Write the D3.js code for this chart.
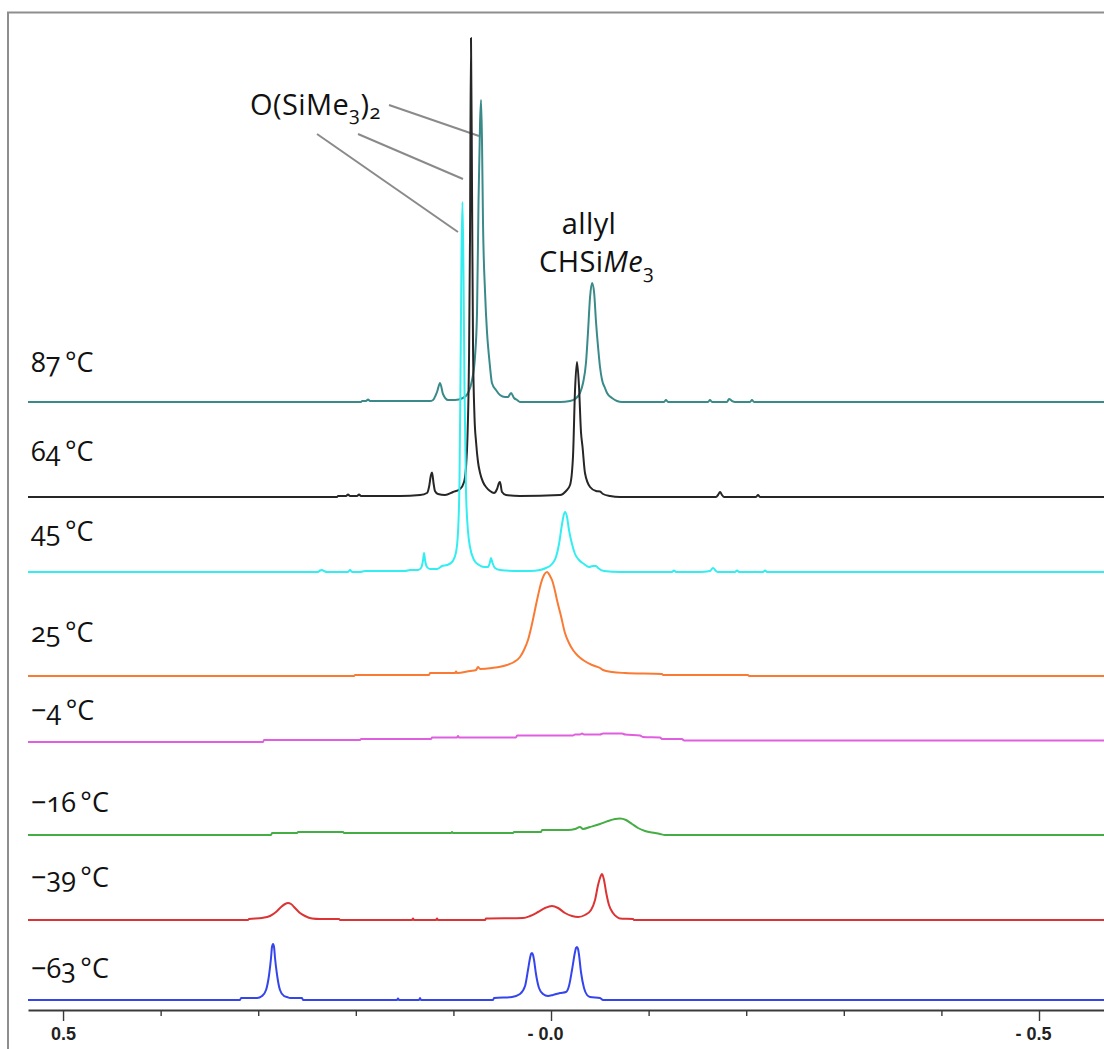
<!DOCTYPE html>
<html>
<head>
<meta charset="utf-8">
<script src="https://cdn.jsdelivr.net/npm/d3@7"></script>
<style>
  html, body { margin: 0; padding: 0; background: #fff; }
  svg { display: block; }
  .temp { font-family: "Open Sans", "Noto Sans", sans-serif; font-size: 27px; fill: #111; font-variant-numeric: oldstyle-nums; }
  .note { font-family: "Open Sans", "Noto Sans", sans-serif; font-size: 29px; fill: #111; letter-spacing: 0.4px; font-variant-numeric: oldstyle-nums; }
</style>
</head>
<body>
<script>
// Variable-temperature 1H NMR traces, stacked from -63 °C (bottom) to 87 °C (top).
// Each trace: [chemical shift (ppm), intensity above its own baseline].
const temperatures = [87, 64, 45, 25, -4, -16, -39, -63];
// vertical stacking offset of each trace, in intensity units
const stackOffset = [598, 503, 428, 324, 258, 165, 80, 0];
// spectral window shown on the axis (ppm, left to right)
const ppmWindow = [0.5359, -0.5666];
const tickValuesPpm = [0.5, 0.4, 0.3, 0.2, 0.1, 0.0, -0.1, -0.2, -0.3, -0.4, -0.5];
const tickLabels = { "0.5": "0.5", "0.0": "- 0.0", "-0.5": "- 0.5" };

const spec87 = [
  [0.5359,0],[0.1947,0],[0.1936,1],[0.1895,1],[0.1875,2.5],[0.1855,1],[0.1240,1],[0.1209,2],
  [0.1168,10],[0.1137,19],[0.1107,8],[0.1055,2],[0.0984,2],[0.0902,4],[0.0850,9],[0.0809,22],
  [0.0779,45],[0.0758,90],[0.0743,200],[0.0727,280],[0.0717,302],[0.0707,260],[0.0697,180],
  [0.0676,110],[0.0656,70],[0.0635,45],[0.0625,35],[0.0605,19],[0.0564,12],[0.0523,7],[0.0471,5],
  [0.0441,5],[0.0410,9],[0.0379,4],[0.0348,2],[0.0318,0],[-0.0092,0],[-0.0195,1],[-0.0246,3],
  [-0.0297,9],[-0.0328,19],[-0.0359,40],[-0.0379,70],[-0.0400,105],[-0.0420,119],[-0.0441,110],
  [-0.0461,80],[-0.0482,55],[-0.0502,35],[-0.0523,22],[-0.0553,14],[-0.0574,9],[-0.0625,4],
  [-0.0676,1],[-0.0727,0],[-0.1158,0],[-0.1178,2],[-0.1199,0],[-0.1609,0],[-0.1629,2],[-0.1650,0],
  [-0.1803,0],[-0.1824,3],[-0.1855,1],[-0.1885,0],[-0.2039,0],[-0.2059,2],[-0.2080,0],[-0.5666,0]
];
const spec64 = [
  [0.5359,0],[0.2193,0],[0.2182,1],[0.2100,1],[0.2080,2.5],[0.2059,1],[0.1988,1],[0.1967,2.5],
  [0.1947,1],[0.1547,1],[0.1342,2],[0.1271,4],[0.1250,10],[0.1230,22],[0.1219,24.5],[0.1204,14],
  [0.1189,6],[0.1158,3],[0.1086,2],[0.1004,5],[0.0932,8],[0.0891,15],[0.0871,30],[0.0856,60],
  [0.0840,140],[0.0830,260],[0.0820,459],[0.0809,300],[0.0799,150],[0.0784,80],[0.0768,55],
  [0.0748,35],[0.0727,24],[0.0697,15],[0.0666,10],[0.0625,6],[0.0584,4],[0.0553,8],[0.0533,14],
  [0.0523,15],[0.0502,5],[0.0461,2],[0.0318,1],[-0.0092,2],[-0.0154,6],[-0.0195,12],[-0.0225,40],
  [-0.0246,107],[-0.0266,135],[-0.0287,110],[-0.0307,65],[-0.0323,50],[-0.0348,24],[-0.0400,10],
  [-0.0461,6],[-0.0502,5.5],[-0.0533,3],[-0.0605,1],[-0.0707,0],[-0.1691,0],[-0.1711,2],
  [-0.1732,5],[-0.1752,2],[-0.1773,0],[-0.2100,0],[-0.2121,2],[-0.2141,0],[-0.5666,0]
];
const spec45 = [
  [0.5359,0],[0.2387,0],[0.2367,1.5],[0.2346,2],[0.2326,1],[0.2295,0],[0.2080,0],[0.2059,2],
  [0.2039,0],[0.1957,0],[0.1906,1],[0.1650,1],[0.1496,1],[0.1445,2],[0.1363,2],[0.1332,4],
  [0.1311,12],[0.1301,19],[0.1291,12],[0.1271,5],[0.1240,3],[0.1168,3],[0.1117,6],[0.1066,7],
  [0.1014,10],[0.0973,20],[0.0953,40],[0.0938,90],[0.0927,200],[0.0917,320],[0.0907,370],
  [0.0897,300],[0.0886,180],[0.0871,80],[0.0850,40],[0.0830,25],[0.0789,12],[0.0738,7],[0.0686,5],
  [0.0645,5],[0.0625,10],[0.0615,14],[0.0599,9],[0.0574,4],[0.0523,2],[0.0318,1],[0.0215,1],
  [0.0113,2],[0.0051,4],[-0.0010,8],[-0.0051,15],[-0.0082,28],[-0.0113,48],[-0.0133,58],
  [-0.0143,60],[-0.0164,55],[-0.0184,42],[-0.0215,28],[-0.0246,18],[-0.0287,12],[-0.0338,8],
  [-0.0389,5],[-0.0430,6],[-0.0461,6],[-0.0482,4],[-0.0543,1],[-0.0707,0],[-0.1240,0],[-0.1260,1.5],
  [-0.1281,0],[-0.1527,0],[-0.1629,1],[-0.1660,4],[-0.1691,1],[-0.1711,0],[-0.1885,0],[-0.1906,1.5],
  [-0.1926,0],[-0.2172,0],[-0.2193,1.5],[-0.2213,0],[-0.5666,0]
];
const spec25 = [
  [0.5359,0],[0.2018,0],[0.2008,1],[0.1250,1],[0.1240,3],[0.0984,3],[0.0973,4.5],[0.0963,3],
  [0.0830,5],[0.0768,6],[0.0748,9],[0.0727,7],[0.0605,8],[0.0451,11],[0.0379,14],[0.0318,19],
  [0.0277,26],[0.0236,36],[0.0195,52],[0.0143,76],[0.0102,93],[0.0072,101],[0.0041,104],
  [0.0010,100],[-0.0010,96],[-0.0041,85],[-0.0061,76],[-0.0102,60],[-0.0143,43],[-0.0184,33],
  [-0.0225,26],[-0.0277,20],[-0.0328,16],[-0.0420,11],[-0.0502,8],[-0.0533,6],[-0.0625,4],
  [-0.0758,3],[-0.1137,2],[-0.1148,1],[-0.2018,1],[-0.2029,0],[-0.5666,0]
];
const specM4 = [
  [0.5359,0],[0.2951,0],[0.2941,2],[0.1957,2],[0.1947,3],[0.1230,3],[0.1219,4.5],[0.0963,4.5],
  [0.0953,6],[0.0943,4.5],[0.0359,4.5],[0.0348,6.5],[-0.0225,6.5],[-0.0246,7.5],[-0.0297,7.5],
  [-0.0318,8.5],[-0.0338,7.5],[-0.0502,7.5],[-0.0533,8.5],[-0.0727,8.5],[-0.0758,7.5],
  [-0.0912,6.5],[-0.0943,5],[-0.1117,4.5],[-0.1137,3],[-0.1342,3],[-0.1363,1.5],[-0.5666,1.5]
];
const specM16 = [
  [0.5359,0],[0.2869,0],[0.2859,2],[0.2602,2],[0.2592,3],[0.2131,3],[0.2121,2],[0.1025,2],
  [0.1014,3],[0.1004,2],[0.0389,2],[0.0379,3],[0.0102,3],[0.0092,5],[-0.0174,5],[-0.0246,6],
  [-0.0297,8],[-0.0328,6],[-0.0400,8],[-0.0502,11],[-0.0584,14],[-0.0656,16],[-0.0707,16.5],
  [-0.0768,15],[-0.0830,11],[-0.0891,7],[-0.0963,4],[-0.1066,2],[-0.1117,1],[-0.1168,0],[-0.5666,0]
];
const specM39 = [
  [0.5359,0],[0.3105,0],[0.3094,1],[0.2961,2],[0.2879,4],[0.2818,8],[0.2766,13],[0.2725,16],
  [0.2695,17],[0.2664,16],[0.2623,12],[0.2572,7],[0.2521,4],[0.2449,1.5],[0.2367,1],[0.2172,1],
  [0.2162,0],[0.1424,0],[0.1414,1.5],[0.1404,0],[0.1178,0],[0.1168,1.5],[0.1158,0],[0.0676,0],
  [0.0666,1.5],[0.0287,2],[0.0215,4],[0.0133,8],[0.0061,12],[-0.0010,14],[-0.0072,12],[-0.0143,7],
  [-0.0215,4],[-0.0277,3],[-0.0348,5],[-0.0410,10],[-0.0451,20],[-0.0482,35],[-0.0502,42],
  [-0.0523,46],[-0.0543,40],[-0.0564,28],[-0.0594,15],[-0.0635,7],[-0.0676,3],[-0.0707,1.5],
  [-0.0840,1],[-0.0850,0],[-0.5666,0]
];
const specM63 = [
  [0.5359,0],[0.3187,0],[0.3176,2],[0.3012,2],[0.2961,4],[0.2920,10],[0.2889,25],[0.2869,42],
  [0.2859,53],[0.2848,56],[0.2838,53],[0.2828,42],[0.2807,25],[0.2777,10],[0.2736,4],[0.2705,3],
  [0.2674,2],[0.2551,2],[0.2541,0],[0.1578,0],[0.1568,1.5],[0.1557,0],[0.1352,0],[0.1342,2],
  [0.1332,0],[0.0594,0],[0.0584,2],[0.0400,3],[0.0318,6],[0.0266,14],[0.0236,30],[0.0215,42],
  [0.0205,46],[0.0195,47],[0.0184,45],[0.0174,40],[0.0154,26],[0.0123,12],[0.0082,6],[0.0031,4],
  [-0.0020,5],[-0.0092,7],[-0.0154,8],[-0.0184,14],[-0.0215,30],[-0.0246,48],[-0.0256,52],
  [-0.0266,53],[-0.0277,51],[-0.0287,45],[-0.0307,28],[-0.0338,12],[-0.0369,5],[-0.0400,3],
  [-0.0502,2],[-0.0533,0],[-0.5666,0]
];
const spectra = [spec87, spec64, spec45, spec25, specM4, specM16, specM39, specM63];

// trace colours, top to bottom
const colors = ["#3a8a8a", "#262626", "#33eef0", "#fb7a33", "#df5fdf", "#44ad44", "#dc3434", "#3445ee"];
// how far each temperature label sits above its trace
const labelLift = [30, 36, 31, 34, 22, 23, 33, 22];

const W = 1104, H = 1049;
const svg = d3.select("body").append("svg").attr("width", W).attr("height", H);

const x = d3.scaleLinear().domain(ppmWindow).range([28, 1104]);
const y = d3.scaleLinear().domain([0, 1000]).range([1000, 0]);

// frame (top and left edges)
svg.append("path")
  .attr("d", `M8,1049 V12.5 H1104`)
  .attr("fill", "none").attr("stroke", "#8e8e8e").attr("stroke-width", 2);

// pointer lines from the O(SiMe3)2 label to its three peaks
const pointer = svg.append("g").attr("stroke", "#8a8a8a").attr("stroke-width", 2);
[[389, 105, 479, 136], [358, 134, 463, 179], [317, 134, 458, 232]].forEach(s => {
  pointer.append("line").attr("x1", s[0]).attr("y1", s[1]).attr("x2", s[2]).attr("y2", s[3]);
});

// traces, drawn top to bottom so the lower traces sit over the upper ones
spectra.forEach((spec, i) => {
  const line = d3.line()
    .x(d => x(d[0]))
    .y(d => y(d[1] + stackOffset[i]))
    .curve(d3.curveMonotoneX);
  const pts = spec.slice().sort((a, b) => b[0] - a[0]);
  svg.append("path")
    .attr("d", line(pts))
    .attr("fill", "none")
    .attr("stroke", colors[i])
    .attr("stroke-width", 2)
    .attr("stroke-linejoin", "round");
});

// temperature labels
temperatures.forEach((t, i) => {
  const s = (t < 0 ? "\u2212" + Math.abs(t) : String(t)) + "\u2009\u00B0C";
  svg.append("text").attr("class", "temp")
    .attr("x", 31).attr("y", y(stackOffset[i] + labelLift[i]))
    .text(s);
});

// peak assignments
const n1 = svg.append("text").attr("class", "note").attr("x", 250).attr("y", 115);
n1.append("tspan").text("O(SiMe");
n1.append("tspan").attr("font-size", 20).attr("dy", 6).text("3");
n1.append("tspan").attr("dy", -6).text(")");
n1.append("tspan").attr("font-size", 20).attr("dy", 4).text("2");

svg.append("text").attr("class", "note").attr("x", 589).attr("y", 234)
  .attr("text-anchor", "middle").text("allyl");
const n2 = svg.append("text").attr("class", "note").attr("x", 539).attr("y", 272);
n2.append("tspan").text("CHSi");
n2.append("tspan").attr("font-style", "italic").text("Me");
n2.append("tspan").attr("font-size", 20).attr("dy", 7).text("3");

// chemical shift axis
const axis = d3.axisBottom(x)
  .tickValues(tickValuesPpm)
  .tickSize(6)
  .tickSizeOuter(0)
  .tickPadding(12)
  .tickFormat(d => tickLabels[d.toFixed(1) === "-0.0" ? "0.0" : d.toFixed(1)] || "");
const ax = svg.append("g").attr("transform", "translate(0,1010)").call(axis);
ax.select(".domain").attr("stroke", "#3a3a3a").attr("stroke-width", 2.2);
ax.selectAll(".tick line").attr("stroke", "#3a3a3a").attr("stroke-width", 1.4)
  .attr("y2", d => (Math.abs(d) === 0.5 || d === 0) ? 11 : 6);
ax.selectAll(".tick text")
  .style("font-family", "'Liberation Sans', Arial, sans-serif")
  .style("font-weight", "bold")
  .style("font-size", "18px")
  .style("fill", "#222")
  .attr("y", 17)
  .attr("dy", "0.71em")
  .attr("dx", d => d <= 0 ? -6 : 0);
</script>
</body>
</html>
